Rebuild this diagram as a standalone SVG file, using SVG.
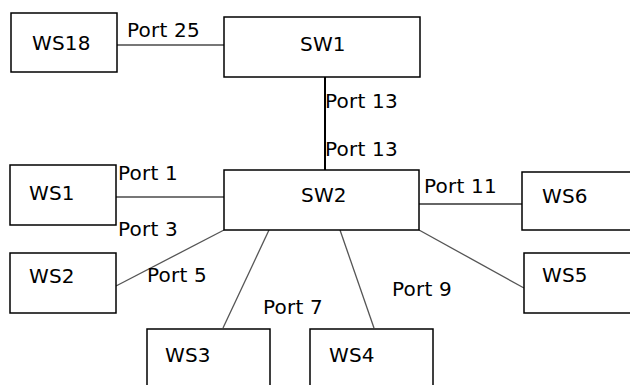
<svg xmlns="http://www.w3.org/2000/svg" width="630" height="385" viewBox="0 0 630 385">
<style>
.box{fill:#fff;stroke:#000;stroke-width:1.5}
.t{font-family:"DejaVu Sans",sans-serif;font-size:20px;fill:#000;letter-spacing:0.2px}
.c{stroke:#555;stroke-width:1.3;fill:none}
.g{stroke:#777;stroke-width:2.2;fill:none}
</style>
<rect width="630" height="385" fill="#fff"/>
<g id="connectors">
<line class="g" x1="117" y1="45" x2="224" y2="45"/>
<line x1="325" y1="77" x2="325" y2="170" stroke="#000" stroke-width="2"/>
<line class="g" x1="116" y1="197" x2="224" y2="197"/>
<line x1="419" y1="204" x2="522" y2="204" stroke="#333" stroke-width="1.6"/>
<line class="c" x1="224" y1="230" x2="116" y2="286"/>
<line class="c" x1="269" y1="230" x2="223" y2="328"/>
<line class="c" x1="340" y1="230" x2="374" y2="328"/>
<line class="c" x1="419" y1="230" x2="524" y2="288"/>
<text class="t" x="127" y="37">Port 25</text>
<text class="t" x="325" y="108">Port 13</text>
<text class="t" x="325" y="156">Port 13</text>
<text class="t" x="118" y="180">Port 1</text>
<text class="t" x="118" y="236">Port 3</text>
<text class="t" x="424" y="193">Port 11</text>
<text class="t" x="147" y="282">Port 5</text>
<text class="t" x="263" y="314">Port 7</text>
<text class="t" x="392" y="296">Port 9</text>
</g>
<g id="WS18"><rect class="box" x="11" y="13" width="106" height="59"/><text class="t" x="32" y="50">WS18</text></g>
<g id="SW1"><rect class="box" x="224" y="17" width="196" height="60"/><text class="t" x="300" y="51">SW1</text></g>
<g id="SW2"><rect class="box" x="224" y="170" width="195" height="60"/><text class="t" x="301" y="202">SW2</text></g>
<g id="WS1"><rect class="box" x="10" y="165" width="106" height="60"/><text class="t" x="29" y="200">WS1</text></g>
<g id="WS6"><rect class="box" x="522" y="172" width="112" height="58"/><text class="t" x="542" y="203">WS6</text></g>
<g id="WS2"><rect class="box" x="10" y="253" width="106" height="60"/><text class="t" x="29" y="283">WS2</text></g>
<g id="WS5"><rect class="box" x="524" y="253" width="110" height="60"/><text class="t" x="542" y="282">WS5</text></g>
<g id="WS3"><rect class="box" x="147" y="329" width="123" height="60"/><text class="t" x="165" y="362">WS3</text></g>
<g id="WS4"><rect class="box" x="310" y="329" width="123" height="60"/><text class="t" x="329" y="362">WS4</text></g>
</svg>
